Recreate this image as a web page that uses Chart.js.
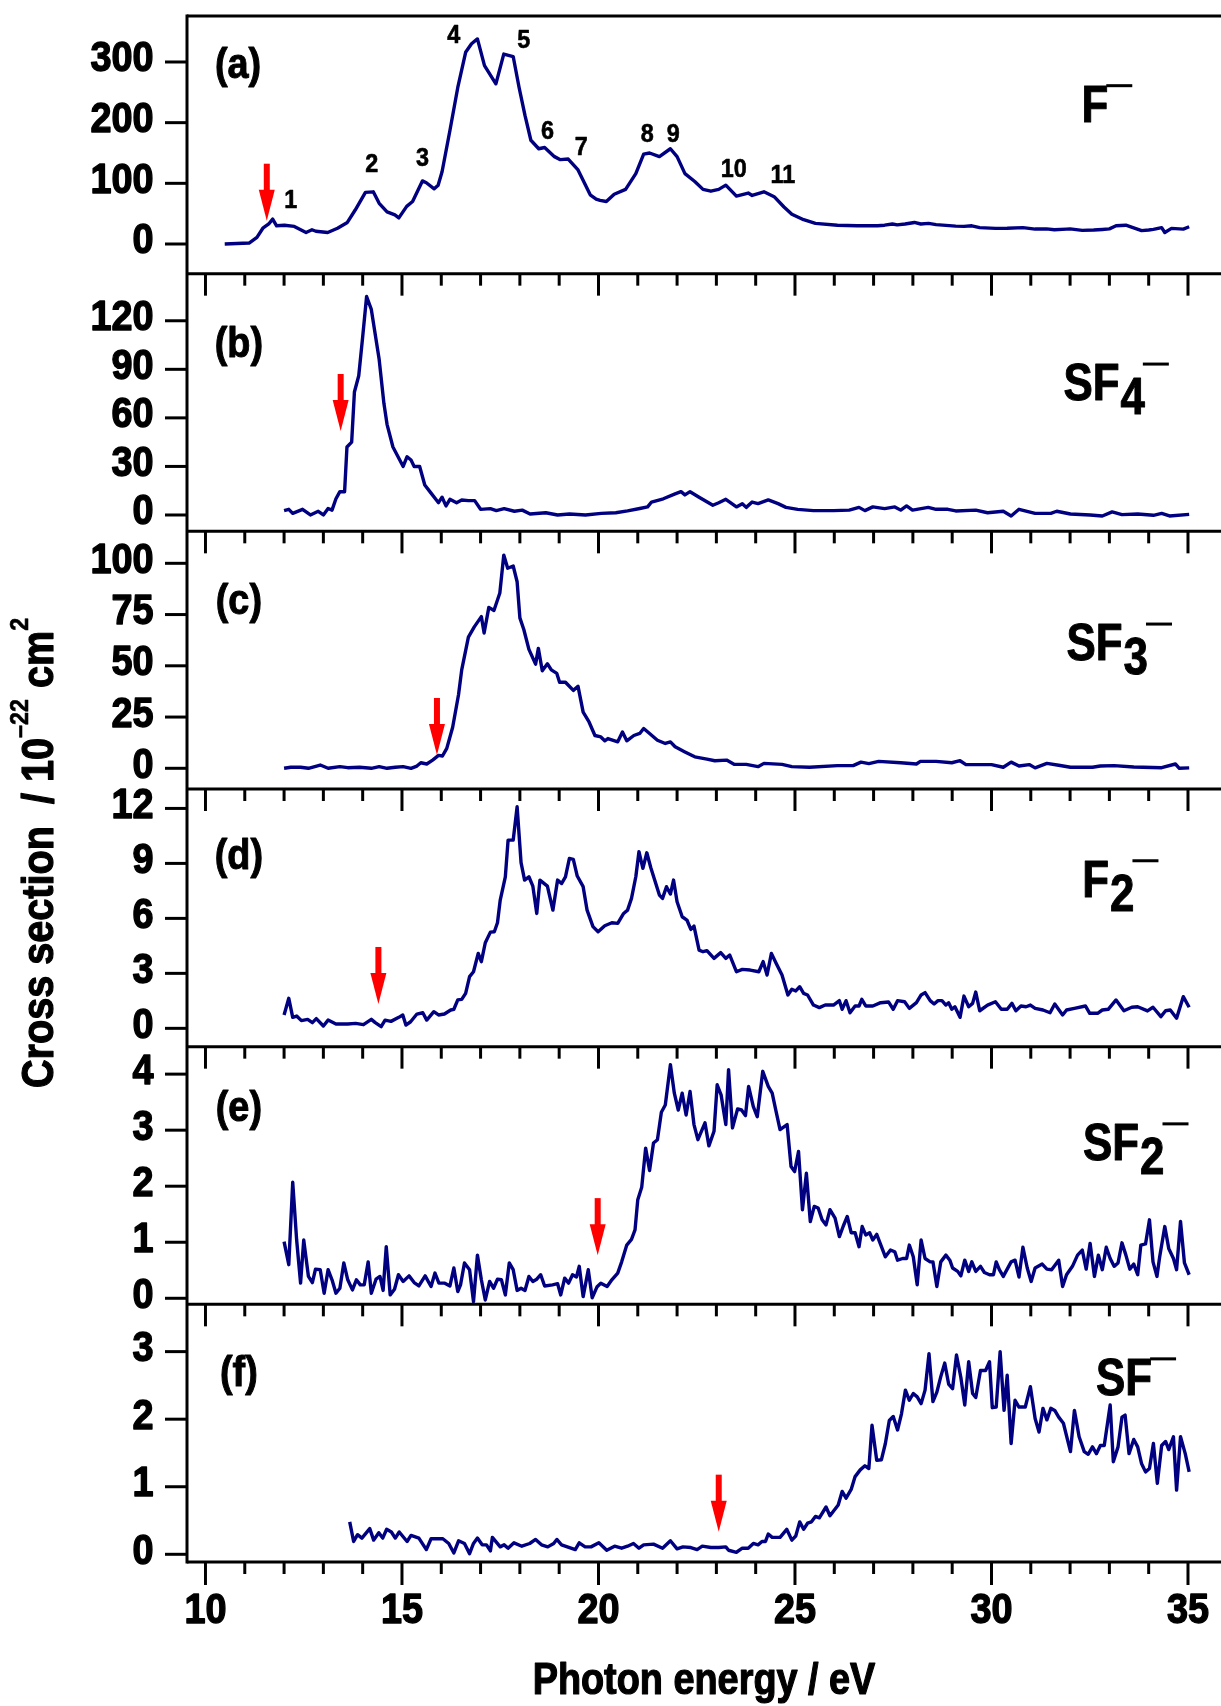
<!DOCTYPE html>
<html><head><meta charset="utf-8">
<script src="https://cdn.jsdelivr.net/npm/chart.js@4.4.1/dist/chart.umd.min.js"></script>
<style>html,body{margin:0;padding:0;background:#fff;}canvas{display:block;}</style>
</head><body>
<canvas id="c" width="1221" height="1706"></canvas>
<script>
// ---------------- data ----------------
// (a) F-
const fE = [10.49,11.11,11.31,11.46,11.61,11.71,11.81,12.01,12.26,12.56,12.71,12.81,13.11,13.36,13.61,13.81,14.07,14.27,14.42,14.62,14.82,14.92,15.12,15.27,15.52,15.62,15.82,15.92,16.02,16.22,16.42,16.62,16.77,16.92,17.10,17.39,17.59,17.83,17.98,18.13,18.28,18.48,18.63,18.88,19.03,19.23,19.48,19.79,19.94,20.04,20.20,20.40,20.69,20.95,21.15,21.30,21.55,21.83,22.00,22.20,22.45,22.66,22.86,23.06,23.24,23.51,23.81,23.91,24.21,24.47,24.72,24.92,25.22,25.52,26.08,26.58,27.10,27.28,27.48,27.60,27.80,28.04,28.20,28.40,28.59,29.09,29.30,29.50,29.70,30.10,30.40,30.80,31.11,31.40,31.60,31.91,32.00,32.31,32.60,32.82,33.00,33.17,33.42,33.60,33.82,34.00,34.12,34.33,34.41,34.58,34.88,35.03];
const fV = [0,1.6,11,26,33,41,30,31,29,19,23.5,21,19,26,35.5,56,85,86,67,53,48,43,62,70,104,101,91,97,119,187,258,316,330,338,294,264,313,309,258,212,171,157,159,144,139,140,122,81,74,72,70,82,90,116,148,150,144,157,144,116,103,90,87,90,97,79,84,80,86,78,61,49,40,34,31,30,30,31,33,31.5,33,35.5,33,34,32,29.5,29,30,27,25.7,26,27,24.6,25,23.5,24.6,25,22.4,23,24,25,30,31,27,22,23,24,27,19,25.7,24.6,28.4];
// (b) SF4-
const sf4E = [12.00,12.12,12.22,12.47,12.67,12.87,13.00,13.12,13.22,13.32,13.42,13.54,13.60,13.72,13.79,13.90,14.00,14.10,14.22,14.42,14.54,14.62,14.77,15.03,15.13,15.23,15.31,15.45,15.58,15.73,15.93,16.02,16.12,16.22,16.39,16.52,16.69,16.85,17.00,17.25,17.40,17.60,17.86,18.06,18.26,18.66,18.96,19.26,19.67,20.07,20.44,20.74,21.05,21.25,21.35,21.65,21.95,22.10,22.20,22.33,22.56,22.91,23.06,23.24,23.51,23.66,23.76,23.91,24.06,24.32,24.57,24.77,25.07,25.47,25.98,26.38,26.63,26.78,26.98,27.28,27.54,27.69,27.84,27.99,28.39,28.59,28.89,29.09,29.60,29.90,30.30,30.50,30.70,31.11,31.51,31.66,32.01,32.51,32.82,33.07,33.32,33.72,34.12,34.33,34.53,35.03];
const sf4V = [2.7,3.5,1,3.5,0,2.3,0,4,3,10,14.4,14.4,42,45,76,86,110,135,127,96,69,56,42,30,36,34,30,30,18.5,13.8,7.6,11,5.6,9.7,7.6,9.3,8.9,8.9,3.5,3.9,2.7,3.9,2.3,3,0.6,1.4,0,0.6,0,1,1.4,2.5,4,5,8,10,13,14.4,12.4,14.4,11,6,7.6,9.7,5,7,4.7,8,7,9.3,7,4.7,3.5,2.7,2.7,3,4.7,2.7,5,3.9,5,3,5.6,3,4.7,3.5,3.5,2.5,3,1.4,2.3,-0.6,3.5,1,1,2.3,0.6,0,-0.6,1.9,0.2,0.6,-0.2,1,-0.6,0.4];
// (c) SF3-
const sf3E = [12.00,12.17,12.42,12.62,12.92,13.12,13.42,13.62,13.92,14.22,14.42,14.62,14.83,15.03,15.23,15.38,15.48,15.63,15.78,15.93,16.03,16.14,16.29,16.44,16.52,16.69,16.84,17.02,17.09,17.21,17.34,17.49,17.59,17.69,17.83,17.93,18.00,18.10,18.23,18.40,18.47,18.57,18.70,18.80,18.94,19.01,19.16,19.36,19.48,19.61,19.76,19.91,20.06,20.16,20.24,20.49,20.61,20.72,20.90,21.05,21.15,21.30,21.50,21.70,21.83,21.95,22.20,22.45,22.76,22.96,23.26,23.46,23.76,24.06,24.21,24.67,24.92,25.37,26.08,26.48,26.68,26.88,27.13,27.69,28.09,28.19,28.59,28.99,29.20,29.35,30.00,30.30,30.50,30.70,30.96,31.11,31.41,31.71,32.01,32.57,32.77,33.12,33.62,34.33,34.68,34.78,35.03];
const sf3V = [0,0.5,0.5,0,1.6,0,0.8,0.3,0.5,0,0.8,0,0.5,0.8,0,1.1,2.7,2.1,4,6.3,6,9.7,20,36,48,64,69,74,66,78.5,77,85.5,104,97.6,98.7,91,73.4,67.7,58,50.8,58.5,47.6,51,48,46.3,42,42,38,40,27.4,22.6,16,15.3,13.4,14.5,12.9,17.7,13.4,16,17,19.4,17,13.7,12.1,12.9,10.5,8,5.6,4.5,3.7,4,1.9,1.9,0.8,2.4,1.9,0.8,0.5,1.3,1.3,3,2.3,3.4,2.7,2.1,3.4,3.4,2.7,3.7,1.8,1.8,0.5,3,1.1,1.8,0.2,2.4,1.5,0.5,0.5,1.1,1.3,0.6,0.3,2.1,0,0.2];
// (d) F2-
const f2E = [12.00,12.12,12.22,12.32,12.44,12.60,12.72,12.82,13.00,13.12,13.32,13.62,13.82,14.02,14.22,14.32,14.47,14.57,14.72,14.92,15.02,15.10,15.22,15.38,15.53,15.63,15.81,15.93,16.08,16.24,16.32,16.42,16.52,16.62,16.72,16.82,16.94,17.02,17.12,17.25,17.35,17.43,17.50,17.63,17.70,17.83,17.93,18.03,18.12,18.23,18.33,18.43,18.51,18.70,18.84,18.96,19.06,19.16,19.26,19.36,19.46,19.61,19.71,19.86,19.99,20.16,20.34,20.49,20.64,20.74,20.84,20.95,21.03,21.13,21.23,21.33,21.43,21.55,21.63,21.73,21.83,21.91,22.00,22.13,22.25,22.35,22.43,22.56,22.66,22.76,22.94,23.11,23.24,23.34,23.51,23.66,23.86,24.08,24.19,24.29,24.40,24.52,24.67,24.82,24.92,25.02,25.12,25.22,25.32,25.47,25.62,25.77,25.98,26.13,26.20,26.30,26.40,26.53,26.63,26.70,26.80,26.98,27.18,27.38,27.50,27.61,27.79,27.91,28.09,28.21,28.31,28.44,28.54,28.64,28.74,28.84,28.91,28.99,29.07,29.20,29.30,29.42,29.52,29.60,29.70,29.90,30.10,30.25,30.40,30.52,30.62,30.75,30.88,30.99,31.11,31.31,31.49,31.61,31.81,31.91,32.11,32.39,32.50,32.70,32.82,32.97,33.17,33.37,33.57,33.72,33.97,34.11,34.31,34.43,34.55,34.71,34.88,35.03];
const f2V = [0.73,1.64,0.6,0.67,0.42,0.49,0.31,0.53,0.13,0.45,0.24,0.24,0.27,0.2,0.49,0.31,0.09,0.45,0.38,0.6,0.73,0.18,0.36,0.78,0.85,0.45,0.91,0.73,0.78,1.0,1.04,1.55,1.58,1.91,2.82,3.09,4.09,3.64,4.67,5.25,5.27,5.76,7.0,8.27,10.27,10.27,12.09,9.04,8.09,8.27,7.76,6.27,8.09,7.76,6.45,8.09,7.9,8.27,9.27,9.22,8.31,7.73,6.45,5.55,5.27,5.6,5.76,5.73,6.27,6.45,7.09,8.27,9.64,8.73,9.58,8.78,8.09,7.27,7.09,7.73,7.33,8.09,6.91,6.09,5.91,5.4,5.58,4.27,4.18,4.24,3.82,4.13,3.82,4.0,3.09,3.22,3.18,3.09,3.64,2.91,4.09,3.55,2.91,1.82,2.13,2.04,2.27,1.91,1.82,1.27,1.13,1.27,1.27,1.51,1.04,1.51,0.85,1.22,1.22,1.58,1.22,1.22,1.4,1.44,1.04,1.51,1.45,1.09,1.4,1.82,1.95,1.51,1.33,1.51,1.51,1.27,1.4,1.04,1.18,0.6,1.76,1.18,1.36,1.98,0.96,1.27,1.45,1.04,1.04,1.36,0.96,1.22,1.18,1.27,1.09,1.0,0.85,1.33,0.73,1.0,1.09,1.22,0.82,0.82,1.0,1.04,1.55,0.96,1.15,1.18,0.95,1.15,0.64,0.96,1.0,0.55,1.73,1.15];
// (e) SF2-
const sf2E = [12.00,12.12,12.22,12.32,12.42,12.50,12.62,12.72,12.80,12.92,13.02,13.12,13.22,13.32,13.42,13.52,13.62,13.74,13.84,13.94,14.04,14.14,14.22,14.34,14.44,14.52,14.60,14.70,14.81,14.91,15.03,15.18,15.31,15.43,15.59,15.74,15.84,15.94,16.09,16.22,16.32,16.42,16.49,16.59,16.72,16.82,16.92,17.02,17.12,17.23,17.33,17.43,17.53,17.63,17.73,17.83,17.93,18.03,18.13,18.23,18.33,18.43,18.53,18.63,18.83,18.96,19.04,19.14,19.24,19.34,19.44,19.51,19.61,19.74,19.84,19.96,20.06,20.22,20.34,20.49,20.59,20.72,20.84,20.93,21.00,21.10,21.20,21.30,21.40,21.50,21.60,21.70,21.83,21.93,22.03,22.13,22.23,22.33,22.43,22.53,22.71,22.81,22.94,23.02,23.12,23.24,23.31,23.41,23.54,23.64,23.74,23.82,23.94,24.04,24.18,24.32,24.42,24.52,24.62,24.80,24.90,24.99,25.09,25.19,25.29,25.39,25.49,25.59,25.69,25.79,25.89,26.02,26.13,26.23,26.33,26.43,26.53,26.63,26.71,26.80,26.90,26.98,27.08,27.20,27.30,27.43,27.54,27.61,27.74,27.84,27.91,28.01,28.11,28.21,28.31,28.44,28.51,28.61,28.71,28.84,28.94,29.01,29.14,29.22,29.32,29.42,29.50,29.60,29.72,29.82,29.95,30.05,30.12,30.20,30.30,30.40,30.50,30.60,30.70,30.80,30.91,31.01,31.11,31.29,31.41,31.53,31.71,31.81,31.91,32.06,32.19,32.31,32.41,32.51,32.62,32.72,32.82,32.92,33.02,33.12,33.22,33.32,33.42,33.52,33.62,33.72,33.80,33.92,34.02,34.11,34.21,34.28,34.41,34.51,34.63,34.71,34.81,34.91,35.03];
const sf2V = [1.01,0.6,2.07,1.04,0.27,1.04,0.39,0.28,0.52,0.51,0.09,0.51,0.33,0.09,0.18,0.63,0.33,0.15,0.33,0.24,0.24,0.65,0.09,0.34,0.39,0.14,0.92,0.06,0.16,0.42,0.3,0.4,0.28,0.22,0.4,0.21,0.45,0.27,0.27,0.22,0.54,0.12,0.24,0.63,0.51,-0.06,0.77,0.33,-0.03,0.3,0.18,0.34,0.33,0.06,0.63,0.51,0.14,0.18,0.14,0.39,0.3,0.34,0.42,0.22,0.24,0.26,0.06,0.36,0.27,0.42,0.38,0.57,0.03,0.51,0.01,0.2,0.27,0.21,0.33,0.45,0.65,0.95,1.05,1.22,1.76,1.98,2.68,2.28,2.77,2.83,3.32,3.45,4.17,3.66,3.36,3.66,3.27,3.69,3.1,2.83,3.13,2.72,2.98,3.81,3.63,3.1,4.08,3.04,3.38,3.36,3.26,3.78,3.42,3.24,4.05,3.78,3.66,3.33,3.01,3.1,2.35,2.26,2.62,1.58,2.23,1.37,1.64,1.61,1.4,1.31,1.58,1.43,1.1,1.29,1.46,1.17,1.17,0.92,1.28,1.13,1.17,1.04,1.14,0.92,0.74,0.86,0.83,0.68,0.71,0.71,0.95,0.74,0.24,1.04,0.71,0.65,0.65,0.21,0.65,0.77,0.68,0.54,0.48,0.4,0.68,0.48,0.65,0.48,0.57,0.46,0.42,0.42,0.65,0.51,0.39,0.52,0.65,0.68,0.38,0.91,0.54,0.3,0.54,0.61,0.52,0.51,0.68,0.21,0.42,0.57,0.77,0.86,0.52,0.98,0.39,0.77,0.51,0.91,0.71,0.57,0.63,0.99,0.77,0.52,0.61,0.42,0.95,0.97,1.4,0.65,0.39,0.74,1.28,0.89,0.71,0.51,1.37,0.63,0.42];
// (f) SF-
const sfE = [13.67,13.77,13.87,13.98,14.18,14.28,14.41,14.51,14.61,14.73,14.83,14.93,15.13,15.23,15.43,15.62,15.74,16.04,16.19,16.32,16.44,16.59,16.72,16.82,16.92,17.04,17.15,17.25,17.30,17.50,17.60,17.70,17.85,18.05,18.25,18.40,18.55,18.71,18.86,18.94,19.06,19.41,19.51,19.66,19.81,20.01,20.21,20.41,20.59,20.74,20.89,21.03,21.15,21.40,21.63,21.83,22.00,22.15,22.35,22.51,22.64,22.86,23.06,23.24,23.31,23.51,23.66,23.81,23.94,24.06,24.16,24.25,24.32,24.42,24.62,24.79,24.92,25.02,25.12,25.22,25.32,25.42,25.52,25.62,25.79,25.89,26.10,26.20,26.30,26.43,26.53,26.66,26.78,26.88,26.96,27.08,27.20,27.30,27.40,27.50,27.61,27.71,27.81,27.91,28.01,28.11,28.21,28.31,28.41,28.51,28.61,28.71,28.81,28.91,29.01,29.11,29.22,29.32,29.42,29.52,29.60,29.72,29.85,29.95,30.02,30.12,30.22,30.32,30.40,30.50,30.60,30.70,30.86,30.99,31.11,31.21,31.31,31.41,31.51,31.61,31.71,31.83,32.01,32.11,32.23,32.36,32.46,32.57,32.67,32.77,32.87,33.02,33.10,33.22,33.32,33.40,33.50,33.62,33.72,33.82,33.92,34.02,34.12,34.22,34.33,34.43,34.51,34.63,34.71,34.81,34.93,35.03];
const sfV = [0.48,0.19,0.29,0.24,0.38,0.21,0.32,0.24,0.37,0.33,0.24,0.33,0.19,0.28,0.24,0.07,0.23,0.23,0.16,0.02,0.2,0.16,0.01,0.16,0.24,0.14,0.14,0.05,0.25,0.11,0.14,0.09,0.17,0.12,0.16,0.22,0.14,0.11,0.16,0.22,0.14,0.07,0.17,0.11,0.11,0.17,0.06,0.12,0.09,0.12,0.16,0.09,0.14,0.15,0.09,0.2,0.08,0.11,0.1,0.07,0.12,0.1,0.1,0.11,0.06,0.03,0.09,0.09,0.16,0.14,0.19,0.19,0.3,0.25,0.25,0.37,0.21,0.27,0.48,0.37,0.46,0.48,0.56,0.54,0.7,0.57,0.73,0.93,0.83,0.96,1.15,1.25,1.31,1.27,1.91,1.39,1.4,1.64,1.98,2.04,1.84,2.08,2.43,2.28,2.38,2.33,2.23,2.43,2.97,2.26,2.4,2.63,2.83,2.52,2.45,2.95,2.62,2.21,2.85,2.38,2.32,2.72,2.72,2.85,2.17,2.18,3.0,2.13,2.65,1.64,2.28,2.18,2.18,2.48,2.01,1.81,2.16,1.99,2.16,2.13,2.03,1.94,1.52,2.13,1.74,1.52,1.48,1.59,1.49,1.61,1.61,2.21,1.37,1.59,2.03,2.06,1.49,1.7,1.59,1.34,1.22,1.27,1.64,1.05,1.61,1.67,1.55,1.74,0.95,1.74,1.49,1.22];

// panel axes and tick labels
const panelIds   = ['ya','yb','yc','yd','ye','yf'];
const panelTags  = ['(a)','(b)','(c)','(d)','(e)','(f)'];
const yTicks = [[0,100,200,300],[0,30,60,90,120],[0,25,50,75,100],[0,3,6,9,12],[0,1,2,3,4],[0,1,2,3]];
const yMin   = [-48.9,-10.1,-10.1,-1.0,-0.108,-0.114];
const yMax   = [375.8,149.1,115.6,13.06,4.49,3.70];
const xTicks = [10,15,20,25,30,35];
const xMin = 9.53, xMax = 35.84;
const xTitle = 'Photon energy / eV';
const yTitleParts = [['Cross section  / 10',0],['\u201322',1],[' cm',0],['2',1]];

// annotations (data coordinates)
const tagE = [10.83,10.85,10.85,10.85,10.85,10.85];
const tagV = [291.7,104.5,80.6,9.29,3.36,2.66];
const ionMain = ['F','SF','SF','F','SF','SF'];
const ionSub  = ['','4','3','2','2',''];
const ionE = [32.29,31.83,31.91,32.31,32.33,32.66];
const ionV = [201.6,71.0,52.8,7.18,2.47,2.36];
const arrowE = [11.56,13.44,15.89,14.40,19.98,23.06];
const arrowV = [38.4,51.9,6.5,1.33,0.77,0.335];
const peakText = ['1','2','3','4','5','6','7','8','9','10','11'];
const peakE = [12.17,14.23,15.52,16.32,18.10,18.70,19.56,21.24,21.90,23.44,24.69];
const peakV = [74.2,134.7,143.9,347.3,339,187.9,162,184,184,125.8,116.5];

// ---------------- chart ----------------
const FONT = '"Liberation Sans", Arial, "DejaVu Sans", sans-serif';
const SX = 0.86;   // horizontal squeeze to mimic the narrow bold face
const NAVY = '#000080';
const series = [[fE,fV],[sf4E,sf4V],[sf3E,sf3V],[f2E,f2V],[sf2E,sf2V],[sfE,sfV]];
const datasets = series.map((s,i)=>({
  data: s[0].map((x,k)=>({x:x, y:s[1][k]})),
  yAxisID: panelIds[i], borderColor: NAVY, borderWidth: 3.4, pointRadius: 0,
  tension: 0, fill: false, borderJoinStyle: 'round'
}));

const scales = {
  x: {
    type:'linear', position:'bottom', min:xMin, max:xMax,
    grid:{display:false, drawTicks:false, tickLength:0}, border:{display:false},
    afterBuildTicks: s => { s.ticks = xTicks.map(v=>({value:v})); },
    afterFit: s => { s.height = 144; s.paddingLeft = 0; s.paddingRight = 0; },
    ticks:{display:false}, title:{display:false}
  }
};
panelIds.forEach((id,i)=>{
  scales[id] = {
    type:'linear', position:'left', stack:'panels', stackWeight:1, weight:6-i,
    min:yMin[i], max:yMax[i],
    grid:{display:false, drawTicks:false, tickLength:0}, border:{display:false},
    afterBuildTicks: s => { s.ticks = yTicks[i].map(v=>({value:v})); },
    afterFit: s => { s.width = 187; s.paddingTop = 0; s.paddingBottom = 0; },
    ticks:{display:false}
  };
});

// text helper: bold text squeezed horizontally (with a thin outline for weight); returns drawn width
function txt(ctx, t, x, y, size, align, sx, heavy) {
  ctx.save();
  ctx.font = 'bold ' + size + 'px ' + FONT;
  ctx.textAlign = align; ctx.textBaseline = 'alphabetic';
  ctx.translate(x, y); ctx.scale(sx, 1);
  ctx.fillText(t, 0, 0);
  if (heavy) { ctx.lineWidth = heavy; ctx.lineJoin = 'round'; ctx.strokeStyle = ctx.fillStyle; ctx.strokeText(t, 0, 0); }
  const w = ctx.measureText(t).width * sx;
  ctx.restore();
  return w;
}

const decor = {
  id:'decor',
  afterDatasetsDraw(chart){
    const ctx = chart.ctx, xs = chart.scales.x;
    const left = chart.chartArea.left, right = chart.width;
    const top = chart.scales.ya.top, bottom = chart.scales.yf.bottom;
    ctx.save();
    ctx.strokeStyle = '#000'; ctx.fillStyle = '#000'; ctx.lineWidth = 3; ctx.lineCap = 'butt';
    const line = (x1,y1,x2,y2)=>{ctx.beginPath();ctx.moveTo(x1,y1);ctx.lineTo(x2,y2);ctx.stroke();};
    // frame: left axis and horizontal separators
    line(left, top-1.5, left, bottom+1.5);
    panelIds.forEach(id=> line(left, chart.scales[id].top, right, chart.scales[id].top));
    line(left, bottom, right, bottom);
    // x tick marks: inward on panel tops (b-f), outward at the bottom
    for (let v = 10; v <= 35; v++) {
      const px = xs.getPixelForValue(v), major = (v % 5 === 0);
      for (let i = 1; i < panelIds.length; i++) {
        const yt = chart.scales[panelIds[i]].top;
        line(px, yt, px, yt + (major ? 22 : 12));
      }
      line(px, bottom, px, bottom + (major ? 23 : 12));
    }
    // x tick labels and title
    xTicks.forEach(v=> txt(ctx, String(v), xs.getPixelForValue(v), bottom + 61, 42, 'center', 0.9, 1.4));
    txt(ctx, xTitle, (left + right) / 2, 1694, 44, 'center', SX, 1.2);
    // y tick marks and labels
    panelIds.forEach((id,i)=>{
      const s = chart.scales[id];
      yTicks[i].forEach(v=>{
        const py = s.getPixelForValue(v);
        line(left-22, py, left, py);
        txt(ctx, String(v), left - 33.5, py + 9.5, 42, 'right', 0.9, 1.4);
      });
    });
    // panel tags
    panelIds.forEach((id,i)=>{
      txt(ctx, panelTags[i], xs.getPixelForValue(tagE[i]), chart.scales[id].getPixelForValue(tagV[i]) + 11, 42, 'center', 0.9, 1);
    });
    // peak numbers in (a)
    peakText.forEach((t,k)=>{
      txt(ctx, t, xs.getPixelForValue(peakE[k]), chart.scales.ya.getPixelForValue(peakV[k]) + 9.5, 26, 'center', 0.9, 0.6);
    });
    // ion labels
    panelIds.forEach((id,i)=>{
      const x = xs.getPixelForValue(ionE[i]), y = chart.scales[id].getPixelForValue(ionV[i]);
      let w = txt(ctx, ionMain[i], x, y, 51, 'left', SX, 1);
      if (ionSub[i]) { w += 1 + txt(ctx, ionSub[i], x + w + 1, y + 14, 51, 'left', SX, 1); }
      ctx.fillRect(x + w - 2, y - 37.5, 26, 3);
    });
    // red arrows
    ctx.fillStyle = '#ff0000';
    panelIds.forEach((id,i)=>{
      const px = xs.getPixelForValue(arrowE[i]), py = chart.scales[id].getPixelForValue(arrowV[i]);
      ctx.fillRect(px-3, py-57, 6, 27);
      ctx.beginPath(); ctx.moveTo(px-8, py-31); ctx.lineTo(px+8, py-31); ctx.lineTo(px, py); ctx.closePath(); ctx.fill();
    });
    // y axis title with superscripts (rotated)
    ctx.fillStyle = '#000';
    ctx.save();
    ctx.translate(53.4, 1088); ctx.rotate(-Math.PI/2);
    let cx = 0;
    yTitleParts.forEach(([t, isSup])=>{
      cx += txt(ctx, t, cx, isSup ? -25.5 : 0, isSup ? 26 : 44, 'left', 0.9, isSup ? 0.6 : 1.2);
    });
    ctx.restore();
    ctx.restore();
  }
};

new Chart(document.getElementById('c'), {
  type:'line',
  data:{datasets},
  options:{
    responsive:false, animation:false, devicePixelRatio:1, events:[],
    layout:{padding:{left:0,right:0,top:16,bottom:0}},
    plugins:{legend:{display:false}, tooltip:{enabled:false}},
    scales
  },
  plugins:[decor]
});
</script>
</body></html>
